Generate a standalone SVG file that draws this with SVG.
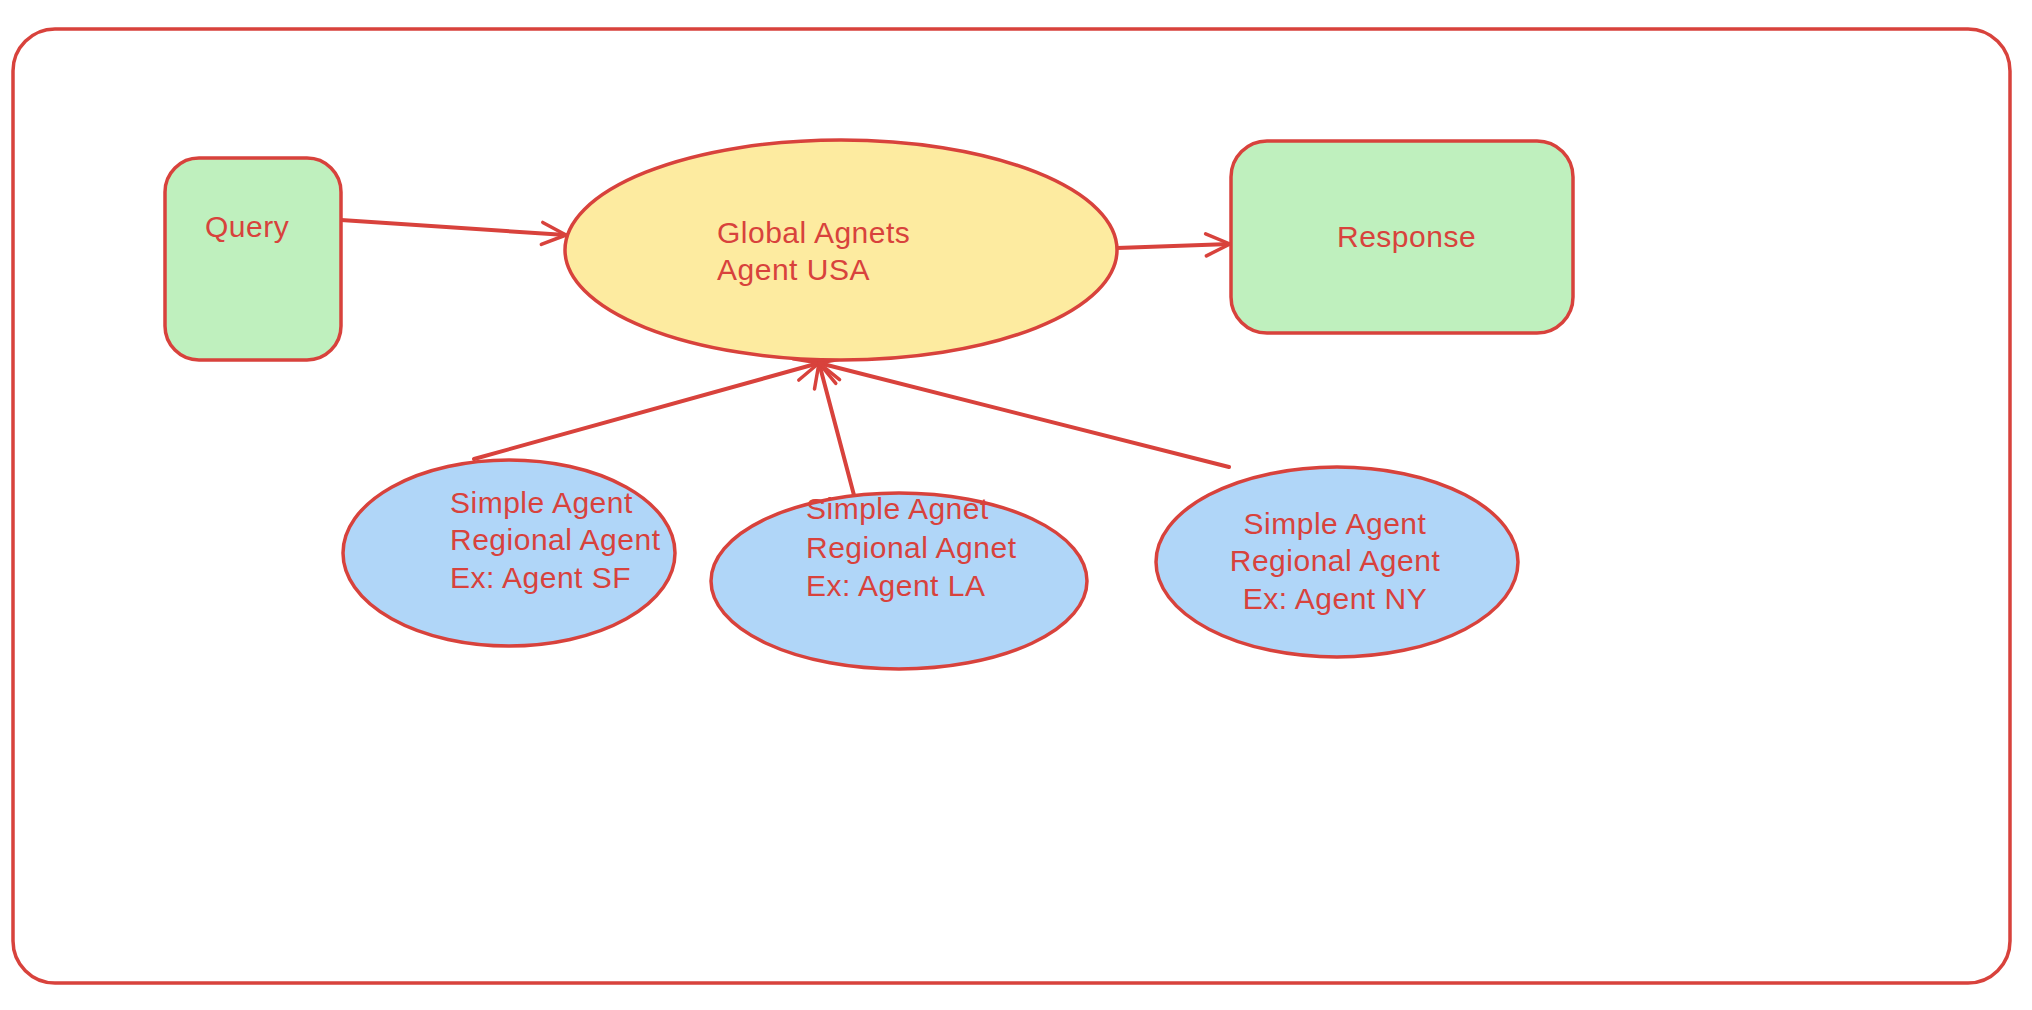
<svg xmlns="http://www.w3.org/2000/svg" width="2032" height="1010" viewBox="0 0 2032 1010">
<style>
.st{stroke:#d8423c;stroke-width:3.5;stroke-linecap:round;stroke-linejoin:round}
.green{fill:#bff0be}
.yellow{fill:#fdeba0}
.blue{fill:#b0d6f8}
.conn{fill:none;stroke:#d8423c;stroke-width:4;stroke-linecap:round}
text{font-family:"Liberation Sans",Arial,sans-serif;font-size:30px;fill:#d8423c;letter-spacing:0.5px}
</style>
<defs>
<marker id="arr" viewBox="0 0 30 30" refX="27" refY="15" markerWidth="30" markerHeight="30" markerUnits="userSpaceOnUse" orient="auto">
<path d="M3,4 L27,15 L3,26" fill="none" stroke="#d8423c" stroke-width="3.5" stroke-linecap="round" stroke-linejoin="round"/>
</marker>
</defs>
<rect width="2032" height="1010" fill="#ffffff"/>
<g id="frame">
<rect class="st" x="13" y="29" width="1997" height="954" rx="42" ry="42" fill="none"/>
</g>
<g id="connectors">
<line class="conn" x1="341" y1="220" x2="566" y2="235" marker-end="url(#arr)"/>
<line class="conn" x1="1117" y1="248" x2="1230" y2="244" marker-end="url(#arr)"/>
<line class="conn" x1="474" y1="459" x2="819" y2="363" marker-end="url(#arr)"/>
<line class="conn" x1="855" y1="499" x2="819" y2="363" marker-end="url(#arr)"/>
<line class="conn" x1="1229" y1="467" x2="819" y2="363" marker-end="url(#arr)"/>
</g>
<g id="query">
<rect class="st green" x="165" y="158" width="176" height="202" rx="34" ry="34"/>
<text x="205" y="237">Query</text>
</g>
<g id="global">
<ellipse class="st yellow" cx="841" cy="250" rx="276" ry="110"/>
<text x="717" y="243">Global Agnets</text>
<text x="717" y="280">Agent USA</text>
</g>
<g id="response">
<rect class="st green" x="1231" y="141" width="342" height="192" rx="36" ry="36"/>
<text x="1337" y="247">Response</text>
</g>
<g id="agent-sf">
<ellipse class="st blue" cx="509" cy="553" rx="166" ry="93"/>
<text x="450" y="513">Simple Agent</text>
<text x="450" y="550">Regional Agent</text>
<text x="450" y="588">Ex: Agent SF</text>
</g>
<g id="agent-la">
<ellipse class="st blue" cx="899" cy="581" rx="188" ry="88"/>
<text x="806" y="519">Simple Agnet</text>
<text x="806" y="558">Regional Agnet</text>
<text x="806" y="596">Ex: Agent LA</text>
</g>
<g id="agent-ny">
<ellipse class="st blue" cx="1337" cy="562" rx="181" ry="95"/>
<text x="1335" y="534" text-anchor="middle">Simple Agent</text>
<text x="1335" y="571" text-anchor="middle">Regional Agent</text>
<text x="1335" y="609" text-anchor="middle">Ex: Agent NY</text>
</g>
</svg>
